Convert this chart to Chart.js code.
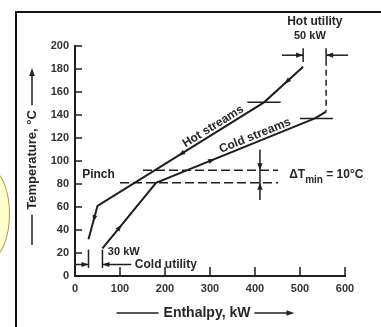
<!DOCTYPE html>
<html>
<head>
<meta charset="utf-8">
<script src="https://cdn.jsdelivr.net/npm/chart.js@4.4.1/dist/chart.umd.min.js"></script>
<style>
html, body { margin: 0; padding: 0; background: #fff; }
#wrap { position: relative; width: 381px; height: 327px; overflow: hidden; }
#frame { position: absolute; left: 15px; top: 11px; width: 400px; height: 400px; border-left: 2px solid #111; border-top: 2px solid #111; }
#blob { position: absolute; left: -30px; top: 169px; width: 40px; height: 90px; border-radius: 50%; background: #ffffcc; border: 1.5px solid #b09a3a; box-sizing: border-box; }
canvas { position: absolute; left: 0; top: 0; }
</style>
</head>
<body>
<div id="wrap">
  <div id="frame"></div>
  <div id="blob"></div>
  <canvas id="chart" width="381" height="327"></canvas>
</div>
<script>
// composite curves (enthalpy kW, temperature °C)
var hotH = [30, 50, 420, 507];
var hotT = [32, 61, 151, 182];
var coldH = [61, 180, 533, 558];
var coldT = [24, 81, 137, 143];

var xTicks = [0, 100, 200, 300, 400, 500, 600];
var yTicks = [0, 20, 40, 60, 80, 100, 120, 140, 160, 180, 200];

// where the little flow arrows sit on each curve
var hotArrowH = [42, 235, 470];
var coldArrowH = [100, 305];

var pinchHot = 92;
var pinchCold = 81;

var ink = '#1e1e1e';
var textInk = '#262626';

function toPoints(hs, ts) {
    return hs.map(function (h, i) { return { x: h, y: ts[i] }; });
}

var deco = {
    id: 'deco',
    afterDraw: function (chart) {
        var ctx = chart.ctx, xs = chart.scales.x, ys = chart.scales.y, area = chart.chartArea;
        var X = function (v) { return xs.getPixelForValue(v); };
        var Y = function (v) { return ys.getPixelForValue(v); };

        function seg(x1, y1, x2, y2) {
            ctx.beginPath(); ctx.moveTo(x1, y1); ctx.lineTo(x2, y2); ctx.stroke();
        }
        function head(tx, ty, ang, len, w) {
            var bx = tx - len * Math.cos(ang), by = ty - len * Math.sin(ang);
            ctx.beginPath();
            ctx.moveTo(tx, ty);
            ctx.lineTo(bx + w * Math.sin(ang), by - w * Math.cos(ang));
            ctx.lineTo(bx - w * Math.sin(ang), by + w * Math.cos(ang));
            ctx.closePath(); ctx.fill();
        }
        function segAngle(hs, ts, i) {
            return Math.atan2(Y(ts[i + 1]) - Y(ts[i]), X(hs[i + 1]) - X(hs[i]));
        }
        function along(hs, ts, h, back) {
            for (var i = 0; i < hs.length - 1; i++) {
                if (h >= hs[i] && h <= hs[i + 1]) {
                    var f = (h - hs[i]) / (hs[i + 1] - hs[i]);
                    var t = ts[i] + f * (ts[i + 1] - ts[i]);
                    var ang = segAngle(hs, ts, i) + (back ? Math.PI : 0);
                    head(X(h) + 3 * Math.cos(ang), Y(t) + 3 * Math.sin(ang), ang, 7, 2.4);
                    return;
                }
            }
        }
        function text(str, x, y, size, align) {
            ctx.font = 'bold ' + size + 'px "Liberation Sans", Arial, sans-serif';
            ctx.textAlign = align || 'left';
            ctx.textBaseline = 'middle';
            ctx.fillText(str, x, y);
        }

        ctx.save();
        ctx.strokeStyle = ink;
        ctx.fillStyle = ink;
        ctx.lineWidth = 1.5;

        // tick marks point into the plot
        xTicks.slice(1).forEach(function (v) { seg(X(v), Y(0), X(v), Y(0) - 9); });
        yTicks.slice(1).forEach(function (v) { seg(X(0), Y(v), X(0) + 7, Y(v)); });

        // flow arrows
        hotArrowH.forEach(function (h) { along(hotH, hotT, h, true); });
        coldArrowH.forEach(function (h) { along(coldH, coldT, h, false); });

        // short marks across the upper kinks
        seg(X(hotH[2] - 37), Y(hotT[2]), X(hotH[2] + 37), Y(hotT[2]));
        seg(X(coldH[2] - 33), Y(coldT[2]), X(coldH[2] + 40), Y(coldT[2]));

        // pinch lines
        ctx.setLineDash([9, 4]);
        seg(X(151), Y(pinchHot), X(451), Y(pinchHot));
        seg(X(100), Y(pinchCold), X(451), Y(pinchCold));
        ctx.setLineDash([]);

        // delta T min marker
        seg(X(411), Y(110), X(411), Y(66));
        head(X(411), Y(pinchHot), Math.PI / 2, 7, 2.6);
        head(X(411), Y(pinchCold), -Math.PI / 2, 7, 2.6);

        // hot utility bracket
        var hEnd = hotH[hotH.length - 1], cEnd = coldH[coldH.length - 1];
        seg(X(hEnd), Y(186), X(hEnd), Y(198));
        seg(X(cEnd), Y(198), X(cEnd), Y(188));
        seg(X(460), Y(192), X(hEnd), Y(192));
        head(X(hEnd), Y(192), 0, 7, 2.6);
        seg(X(607), Y(192), X(cEnd), Y(192));
        head(X(cEnd), Y(192), Math.PI, 7, 2.6);
        ctx.setLineDash([6, 4]);
        seg(X(cEnd), Y(188), X(cEnd), Y(coldT[coldT.length - 1]));
        ctx.setLineDash([]);

        // cold utility bracket
        seg(X(hotH[0]), Y(7), X(hotH[0]), Y(23));
        seg(X(coldH[0]), Y(7), X(coldH[0]), Y(23));
        seg(X(0), Y(10), X(hotH[0]), Y(10));
        head(X(hotH[0]), Y(10), 0, 7, 2.6);
        seg(X(coldH[0]), Y(10), X(125), Y(10));
        head(X(coldH[0]), Y(10), Math.PI, 7, 2.6);

        // labels
        ctx.fillStyle = textInk;
        text('Pinch', X(16), Y(88), 12);
        text('30 kW', X(73), Y(21), 11);
        text('Cold utility', X(133), Y(9.5), 12);
        text('Hot utility', X(533), Y(221), 12, 'center');
        text('50 kW', X(522), Y(209), 11, 'center');

        var dx = X(476), dy = Y(88);
        text('\u0394T', dx, dy, 12);
        ctx.font = 'bold 12px "Liberation Sans", Arial, sans-serif';
        var w1 = ctx.measureText('\u0394T').width;
        text('min', dx + w1, dy + 5, 10);
        ctx.font = 'bold 10px "Liberation Sans", Arial, sans-serif';
        var w2 = ctx.measureText('min').width;
        text(' = 10\u00b0C', dx + w1 + w2, dy, 12);

        ctx.save();
        ctx.translate(X(307), Y(130));
        ctx.rotate(segAngle(hotH, hotT, 1));
        text('Hot streams', 0, 0, 12, 'center');
        ctx.restore();

        ctx.save();
        ctx.translate(X(400), Y(122));
        ctx.rotate(segAngle(coldH, coldT, 1));
        text('Cold streams', 0, 0, 12, 'center');
        ctx.restore();

        // axis titles with their lines and arrows
        ctx.font = 'bold 14px "Liberation Sans", Arial, sans-serif';
        var tw = ctx.measureText('Enthalpy, kW').width;
        var tx = (area.left + area.right) / 2 - 3, ty = 313;
        text('Enthalpy, kW', tx, ty, 14, 'center');
        seg(tx - tw / 2 - 47, ty, tx - tw / 2 - 5, ty);
        seg(tx + tw / 2 + 4, ty, tx + tw / 2 + 40, ty);
        head(tx + tw / 2 + 44, ty, 0, 8, 2.8);

        ctx.save();
        ctx.translate(area.left - 43, 160);
        ctx.rotate(-Math.PI / 2);
        ctx.font = 'bold 13px "Liberation Sans", Arial, sans-serif';
        var yw = ctx.measureText('Temperature, \u00b0C').width;
        text('Temperature, \u00b0C', 0, 0, 13, 'center');
        seg(-yw / 2 - 5, 0, -85, 0);
        seg(yw / 2 + 5, 0, 92 - 6, 0);
        head(92, 0, 0, 8, 2.8);
        ctx.restore();

        ctx.restore();
    }
};

var tickFont = { family: '"Liberation Sans", Arial, sans-serif', size: 11, weight: 'bold' };

new Chart(document.getElementById('chart').getContext('2d'), {
    type: 'line',
    data: {
        datasets: [{
            label: 'Hot streams',
            data: toPoints(hotH, hotT),
            borderColor: ink,
            borderWidth: 2,
            pointRadius: 0,
            tension: 0,
            fill: false
        }, {
            label: 'Cold streams',
            data: toPoints(coldH, coldT),
            borderColor: ink,
            borderWidth: 2,
            pointRadius: 0,
            tension: 0,
            fill: false
        }]
    },
    options: {
        responsive: false,
        animation: false,
        devicePixelRatio: 1,
        layout: { padding: { left: 0, top: 46, right: 36, bottom: 0 } },
        plugins: {
            legend: { display: false },
            tooltip: { enabled: false }
        },
        scales: {
            x: {
                type: 'linear',
                min: 0,
                max: 600,
                afterFit: function (s) { s.height = 51; },
                ticks: { stepSize: 100, font: tickFont, color: '#333', padding: 6, maxRotation: 0 },
                grid: { display: false, drawTicks: false },
                border: { color: ink, width: 2 }
            },
            y: {
                min: 0,
                max: 200,
                afterFit: function (s) { s.width = 75; },
                ticks: { stepSize: 20, font: tickFont, color: '#333', padding: 6 },
                grid: { display: false, drawTicks: false },
                border: { color: ink, width: 2 }
            }
        }
    },
    plugins: [deco]
});
</script>
</body>
</html>
